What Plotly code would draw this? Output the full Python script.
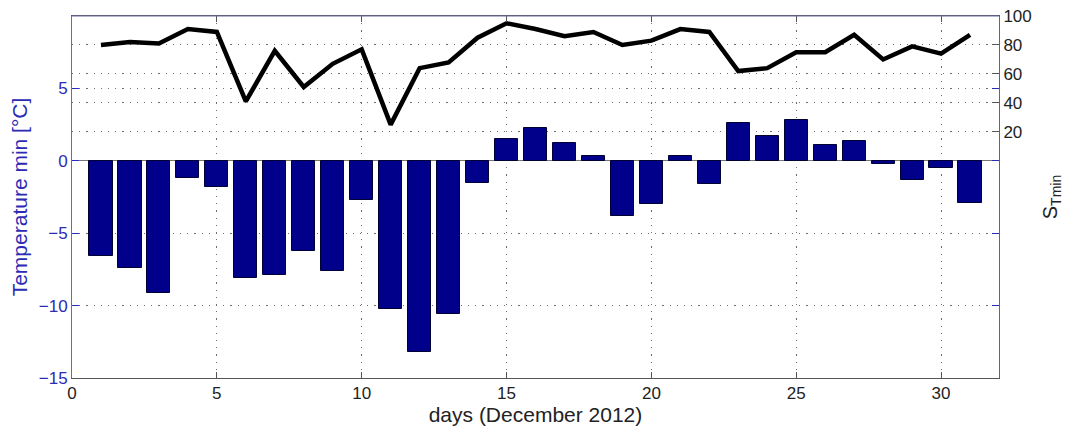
import plotly.graph_objects as go

days = list(range(1, 32))
temp_min = [-6.6, -7.4, -9.1, -1.2, -1.8, -8.1, -7.9, -6.2, -7.6, -2.7,
            -10.2, -13.2, -10.6, -1.5, 1.5, 2.3, 1.2, 0.3, -3.8, -3.0,
            0.3, -1.6, 2.6, 1.7, 2.8, 1.1, 1.4, -0.2, -1.3, -0.5, -2.9]
s_tmin = [80, 82, 81, 91, 89, 41, 76, 51, 67, 77,
          25, 64, 68, 85, 95, 91, 86, 89, 80, 83,
          91, 89, 62, 64, 75, 75, 87, 70, 79, 74, 87]

left_ticks = [-15, -10, -5, 0, 5]
right_ticks = [20, 40, 60, 80, 100]
x_ticks = [0, 5, 10, 15, 20, 25, 30]

BLUE = "#2b2bb3"
FONT = "Liberation Sans, Arial, sans-serif"
GRID = "#6f6f6f"
DOTS = "1.2px,6px"

fig = go.Figure()
fig.add_trace(go.Bar(x=days, y=temp_min, width=0.8,
                     marker=dict(color="#00008b", line=dict(color="#000033", width=1)),
                     yaxis="y", showlegend=False))
fig.add_trace(go.Scatter(x=days, y=s_tmin, mode="lines",
                         line=dict(color="black", width=4.5),
                         yaxis="y2", showlegend=False))

fig.update_layout(
    width=1059, height=420,
    margin=dict(l=64, r=68, t=8, b=50, autoexpand=False),
    paper_bgcolor="white", plot_bgcolor="white",
    font=dict(family=FONT, size=17, color="#222"),
    bargap=0,
    xaxis=dict(range=[0, 32], tickvals=x_ticks, ticks="inside", ticklen=6,
               tickcolor="#555", linecolor="#555", linewidth=1, mirror="ticks",
               showgrid=True, gridcolor=GRID, griddash=DOTS, gridwidth=1.2,
               zeroline=False, automargin=False,
               title=dict(text="days (December 2012)", font=dict(size=21, color="#222"), standoff=3),
               tickfont=dict(size=17, color="#222")),
    yaxis=dict(range=[-15, 10.002], tickvals=left_ticks, ticks="inside", ticklen=7,
               tickcolor=BLUE, linecolor="#6a6ab0", linewidth=1, mirror="ticks",
               showgrid=True, gridcolor=GRID, griddash=DOTS, gridwidth=1.2,
               zeroline=True, zerolinecolor="#777", zerolinewidth=1, automargin=False,
               tickfont=dict(size=17, color=BLUE),
               title=dict(text="Temperature min [°C]", font=dict(size=21, color=BLUE), standoff=6)),
    yaxis2=dict(range=[-150, 100.02], tickvals=right_ticks, overlaying="y", side="right",
                ticks="inside", ticklen=7, tickcolor="#555", linecolor="#666", linewidth=1,
                showgrid=True, gridcolor=GRID, griddash=DOTS, gridwidth=1.2,
                zeroline=False, ticklabeloverflow="allow", automargin=False,
                tickfont=dict(size=17, color="#222"),
                title=dict(text="S<sub>Tmin</sub>", font=dict(size=20, color="#222"), standoff=12)),
)

fig.add_shape(type="line", xref="paper", yref="paper", x0=0, x1=1, y0=1, y1=1,
              line=dict(color="#6a6ab0", width=1))

fig.write_html("out.html")
